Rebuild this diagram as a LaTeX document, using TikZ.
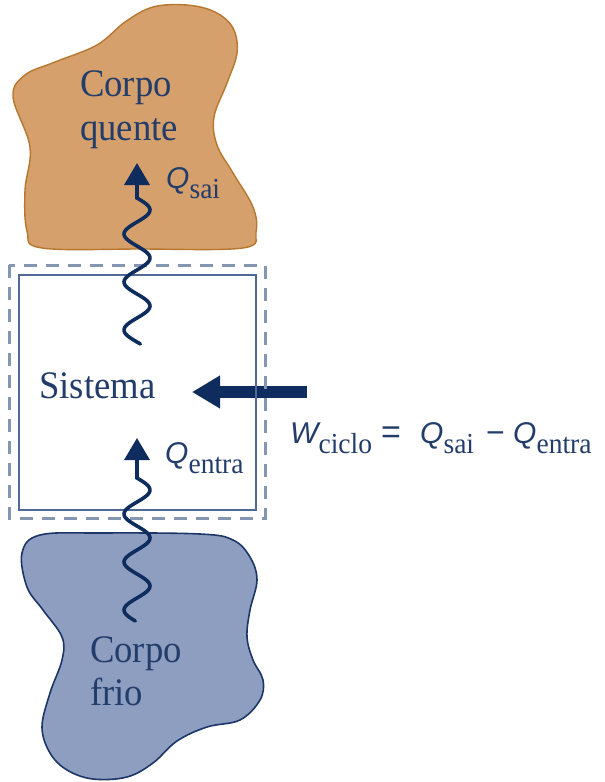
\documentclass[tikz,border=0pt]{standalone}
\usepackage{fontspec}
\setmainfont{Liberation Serif}
\newfontfamily\qfont{Liberation Sans}
\usetikzlibrary{arrows.meta}
\definecolor{navy}{HTML}{0E2D5E}
\definecolor{txt}{HTML}{233D6B}
\definecolor{hotfill}{HTML}{D5A06B}
\definecolor{hotline}{HTML}{B7772F}
\definecolor{coldfill}{HTML}{8E9EC0}
\definecolor{coldline}{HTML}{1C3668}
\definecolor{boxline}{HTML}{4F6A97}
\definecolor{dashline}{HTML}{8596B3}
\newcommand{\Qsym}[2]{{\qfont\itshape\fontsize{30}{36}\selectfont #1}\raisebox{-10pt}{\scalebox{0.95}[1]{\fontsize{29}{34}\selectfont #2}}}
\newcommand{\bodytext}[1]{\scalebox{0.94}[1]{\fontsize{39}{44}\selectfont #1}}
\begin{document}
\begin{tikzpicture}[x=1pt,y=-1pt,
  lbl/.style={anchor=base west,inner sep=0pt,text=txt},
  qlbl/.style={anchor=base west,inner sep=0pt,text=txt},
  wave/.style={draw=navy,line width=3.6pt,line cap=round,{Triangle[length=22pt,width=25pt]}-},
  work/.style={draw=navy,line width=12pt,-{Triangle[length=28pt,width=31pt]}},
  hotbody/.style={fill=hotfill,draw=hotline,line width=1.4pt},
  coldbody/.style={fill=coldfill,draw=coldline,line width=1.6pt},
  sysbox/.style={draw=boxline,line width=2.8pt},
  bound/.style={draw=dashline,line width=3pt,dash pattern=on 13pt off 9pt}]
\useasboundingbox (0,0) rectangle (605,782);
% hot body
\path[hotbody] plot[smooth cycle,tension=0.6] coordinates {
 (13,97) (30,147) (25,190) (27,231) (42,248) (140,249) (243,248) (256,232)
 (253,207) (233,173) (217,145) (214,117) (227,83) (237,53) (233,28)
 (215,12) (187,5) (153,7) (125,22) (97,45) (55,62) (25,75)};
% cold body
\path[coldbody] plot[smooth cycle,tension=0.6] coordinates {
 (22,553) (27,587) (43,610) (62,637) (62,660) (50,693) (42,727) (50,753)
 (67,770) (93,779) (127,777) (153,763) (177,741) (207,727) (240,720)
 (260,700) (263,680) (253,660) (247,637) (250,610) (257,580) (250,557)
 (233,540) (200,534) (100,533) (40,535)};
% work arrow
\coordinate (wstart) at (307,392);
\coordinate (wtip) at (192,392);
\draw[work] (wstart) -- (wtip);
% system boxes
\draw[bound] (9,265) rectangle (265,518);
\draw[sysbox] (19,275) rectangle (256,510);
% heat waves
\coordinate (qsaitip) at (137,163);
\coordinate (qentratip) at (137,438);
\draw[wave] (qsaitip) -- (137,198) -- plot[variable=\t,domain=198:344,samples=90] ({137+13*sin(7.5*(\t-198))},\t);
\draw[wave] (qentratip) -- (137,478) -- plot[variable=\t,domain=478:621,samples=90] ({137+13*sin(7.5*(\t-478))},\t);
% labels
\node[lbl] (hot1) at (80,96) {\bodytext{Corpo}};
\node[lbl] (hot2) at (80,140) {\bodytext{quente}};
\node[lbl] (cold1) at (90,662) {\bodytext{Corpo}};
\node[lbl] (cold2) at (90,705) {\bodytext{frio}};
\node[lbl] (sis) at (39,398) {\bodytext{Sistema}};
\node[qlbl] (qsai) at (166,188) {\Qsym{Q}{sai}};
\node[qlbl] (qentra) at (165,463) {\Qsym{Q}{entra}};
\node[qlbl] (eqW) at (290,443) {\Qsym{W}{ciclo}};
\node[qlbl] (eqeq) at (381,443) {\qfont\fontsize{34}{36}\selectfont =};
\node[qlbl] (eqQs) at (420,443) {\Qsym{Q}{sai}};
\node[qlbl] (eqmin) at (486,443) {\qfont\fontsize{32}{36}\selectfont −};
\node[qlbl] (eqQe) at (513,443) {\Qsym{Q}{entra}};
\end{tikzpicture}
\end{document}
